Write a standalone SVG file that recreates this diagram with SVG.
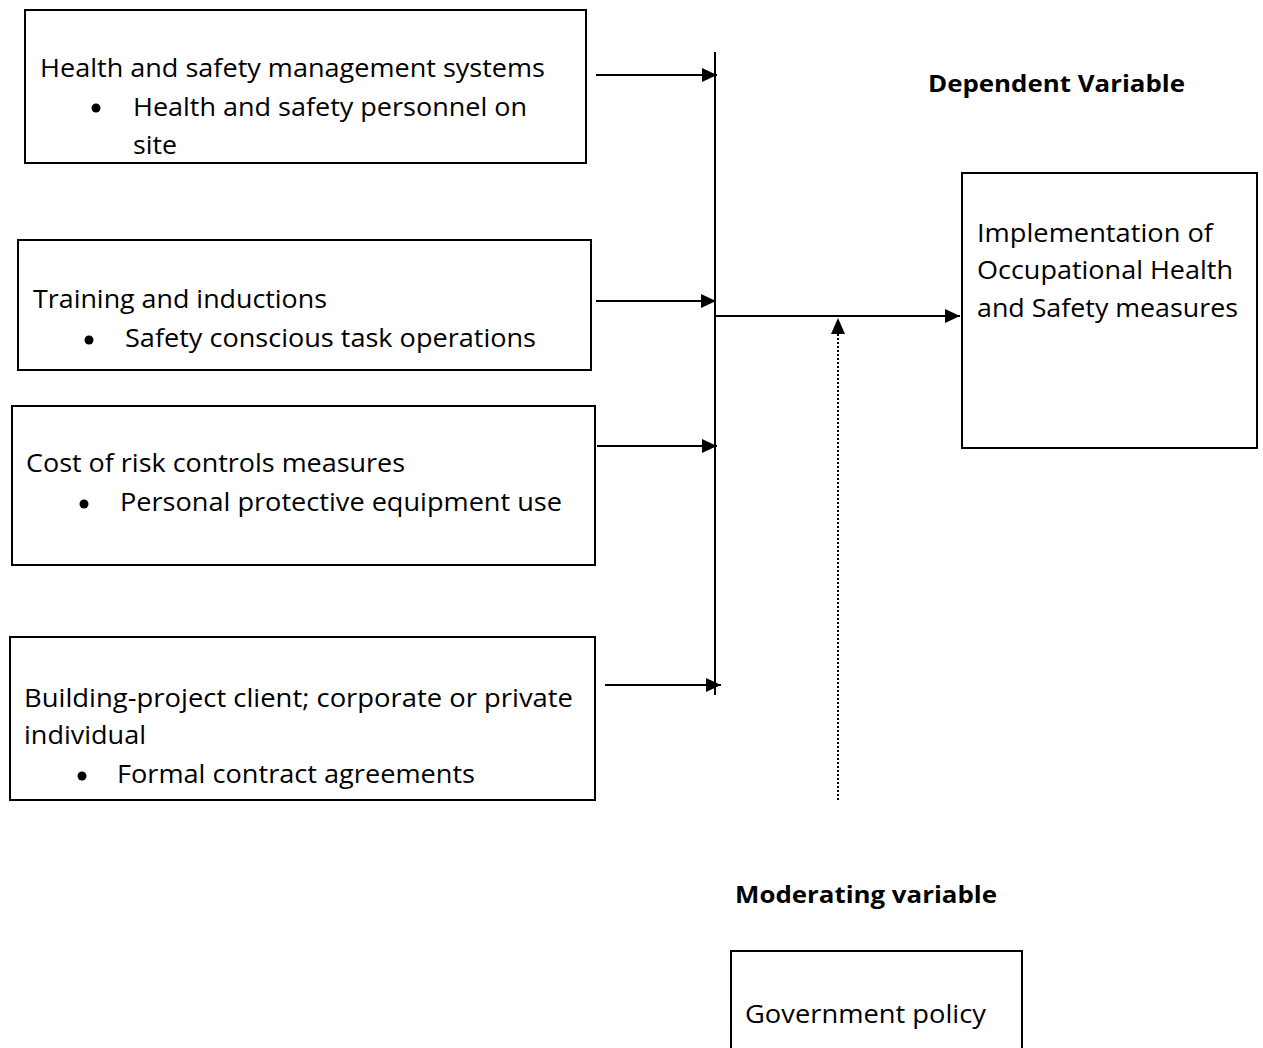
<svg xmlns="http://www.w3.org/2000/svg" width="1263" height="1048" viewBox="0 0 1263 1048">
<defs>
<marker id="ah" viewBox="0 0 15 14" refX="15" refY="7" markerWidth="15" markerHeight="14" markerUnits="userSpaceOnUse" orient="auto"><path d="M0,0 L15,7 L0,14 Z" fill="#000"/></marker>
</defs>
<style>
.box{fill:#fff;stroke:#000;stroke-width:2}
.t{font-family:"Open Sans","Liberation Sans",sans-serif;font-size:26px;fill:#000}
.b{font-family:"Open Sans","Liberation Sans",sans-serif;font-size:24px;font-weight:bold;fill:#000}
.c{stroke:#000;stroke-width:2;fill:none}
.d{stroke:#000;stroke-width:2;stroke-dasharray:2 2;fill:none}
</style>
<rect width="1263" height="1048" fill="#fff"/>
<g id="n1">
<rect class="box" x="25" y="10" width="561" height="153"/>
<text class="t" x="40" y="77" textLength="505" lengthAdjust="spacingAndGlyphs">Health and safety management systems</text>
<circle cx="96" cy="108" r="4.5"/>
<text class="t" x="133" y="116" textLength="394" lengthAdjust="spacingAndGlyphs">Health and safety personnel on</text>
<text class="t" x="133" y="154" textLength="44" lengthAdjust="spacingAndGlyphs">site</text>
</g>
<g id="n2">
<rect class="box" x="18" y="240" width="573" height="130"/>
<text class="t" x="33" y="308" textLength="294" lengthAdjust="spacingAndGlyphs">Training and inductions</text>
<circle cx="89" cy="340" r="4.5"/>
<text class="t" x="125" y="347" textLength="411" lengthAdjust="spacingAndGlyphs">Safety conscious task operations</text>
</g>
<g id="n3">
<rect class="box" x="12" y="406" width="583" height="159"/>
<text class="t" x="26" y="472" textLength="379" lengthAdjust="spacingAndGlyphs">Cost of risk controls measures</text>
<circle cx="84" cy="504" r="4.5"/>
<text class="t" x="120" y="511" textLength="442" lengthAdjust="spacingAndGlyphs">Personal protective equipment use</text>
</g>
<g id="n4">
<rect class="box" x="10" y="637" width="585" height="163"/>
<text class="t" x="24" y="707" textLength="549" lengthAdjust="spacingAndGlyphs">Building-project client; corporate or private</text>
<text class="t" x="24" y="744" textLength="122" lengthAdjust="spacingAndGlyphs">individual</text>
<circle cx="82" cy="776" r="4.5"/>
<text class="t" x="117" y="783" textLength="358" lengthAdjust="spacingAndGlyphs">Formal contract agreements</text>
</g>
<g id="n5">
<rect class="box" x="962" y="173" width="295" height="275"/>
<text class="t" x="977" y="242" textLength="236" lengthAdjust="spacingAndGlyphs">Implementation of</text>
<text class="t" x="977" y="279" textLength="256" lengthAdjust="spacingAndGlyphs">Occupational Health</text>
<text class="t" x="977" y="317" textLength="261" lengthAdjust="spacingAndGlyphs">and Safety measures</text>
</g>
<g id="n6">
<rect class="box" x="731" y="951" width="291" height="120"/>
<text class="t" x="745" y="1023" textLength="241" lengthAdjust="spacingAndGlyphs">Government policy</text>
</g>
<g id="labels">
<text class="b" x="928" y="92" textLength="257" lengthAdjust="spacingAndGlyphs">Dependent Variable</text>
<text class="b" x="735" y="903" textLength="262" lengthAdjust="spacingAndGlyphs">Moderating variable</text>
</g>
<g id="connectors">
<line class="c" x1="715" y1="52" x2="715" y2="695"/>
<line class="c" x1="596" y1="75" x2="717" y2="75" marker-end="url(#ah)"/>
<line class="c" x1="596" y1="301" x2="716" y2="301" marker-end="url(#ah)"/>
<line class="c" x1="597" y1="446" x2="717" y2="446" marker-end="url(#ah)"/>
<line class="c" x1="605" y1="685" x2="721" y2="685" marker-end="url(#ah)"/>
<line class="c" x1="715" y1="316" x2="960" y2="316" marker-end="url(#ah)"/>
<line class="d" x1="838" y1="800" x2="838" y2="334"/>
<path d="M838,318 L831,334 L845,334 Z" fill="#000"/>
</g>
</svg>
